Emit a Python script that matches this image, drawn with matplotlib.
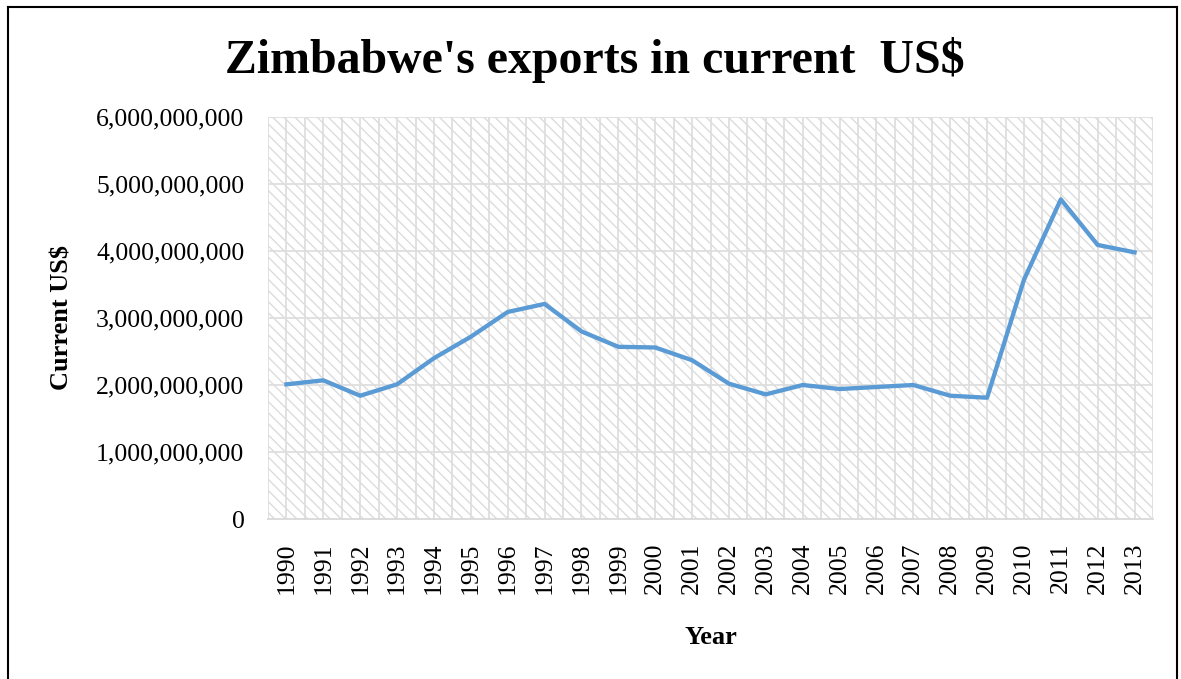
import numpy as np
import matplotlib.pyplot as plt
from matplotlib.ticker import FuncFormatter, MultipleLocator
from matplotlib.lines import Line2D

# data
years = [str(y) for y in range(1990, 2014)]
exports = [2.01e9, 2.07e9, 1.84e9, 2.01e9, 2.40e9, 2.72e9, 3.09e9, 3.21e9,
           2.80e9, 2.57e9, 2.56e9, 2.37e9, 2.02e9, 1.86e9, 2.00e9, 1.94e9,
           1.97e9, 2.00e9, 1.84e9, 1.81e9, 3.57e9, 4.77e9, 4.09e9, 3.98e9]

plt.rcParams['font.family'] = 'Liberation Serif'
plt.rcParams['hatch.color'] = '#dcdcdc'
plt.rcParams['hatch.linewidth'] = 1.0

fig = plt.figure(figsize=(11.81, 6.79), dpi=100)
ax = fig.add_axes([268/1181, 1-519/679, (1153-268)/1181, (519-117)/679])

x = np.arange(len(years))

# hatched background
ax.patch.set_facecolor('white')
ax.add_patch(plt.Rectangle((0, 0), 1, 1, transform=ax.transAxes, facecolor='white',
                           edgecolor='#dcdcdc', hatch='\\\\\\', linewidth=0, zorder=0))

# grid
for v in np.arange(-0.5, len(years), 0.5):
    ax.axvline(v, color='#dedede', lw=1.3, zorder=1)
for h in np.arange(1e9, 6.01e9, 1e9):
    ax.axhline(h, color='#dedede', lw=1.3, zorder=1)

ax.plot(x, exports, color='#5b9bd5', lw=3.1, solid_joinstyle='round', zorder=3)

ax.set_xlim(-0.5, len(years) - 0.5)
ax.set_ylim(0, 6e9)
ax.yaxis.set_major_locator(MultipleLocator(1e9))
ax.yaxis.set_major_formatter(FuncFormatter(lambda v, p: f'{int(v):,}'))
ax.set_xticks(x)
ax.set_xticklabels(years, rotation=90)

for s in ['left', 'right', 'top']:
    ax.spines[s].set_visible(False)
ax.spines['bottom'].set_color('#d9d9d9')
ax.spines['bottom'].set_linewidth(1.3)
ax.tick_params(axis='both', length=0, labelsize=18.5)
ax.tick_params(axis='y', pad=17)
ax.tick_params(axis='x', pad=17)

ax.set_xlabel('Year', fontsize=19, fontweight='bold', labelpad=23)
ax.set_ylabel('Current US$', fontsize=19, fontweight='bold', labelpad=16)

fig.text(0.5035, 1-60/679, "Zimbabwe's exports in current  US$", fontsize=34.5,
         fontweight='bold', ha='center', va='center')

# chart border
fig.add_artist(Line2D([8/1181, 8/1181], [0, 1-7/679], color='black', lw=1.5))
fig.add_artist(Line2D([8/1181, 1177/1181], [1-7/679, 1-7/679], color='black', lw=1.5))
fig.add_artist(Line2D([1177/1181, 1177/1181], [0, 1-7/679], color='black', lw=1.5))

fig.savefig('out.png', dpi=100)
